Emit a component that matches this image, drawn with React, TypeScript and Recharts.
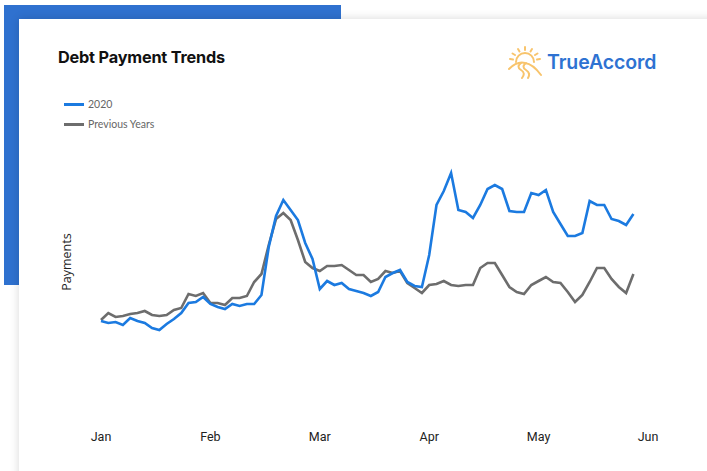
import React from "react";
import { LineChart, Line, XAxis, YAxis } from "recharts";

// day index (each month = 30 units, equally spaced ticks)
const days = [
  0, 2, 4, 6, 8, 10, 12, 14, 16, 18, 20, 22, 24, 26, 28, 30, 32, 34, 36, 38,
  40, 42, 44, 46, 48, 50, 52, 54, 56, 58, 60, 62, 64, 66, 68, 70, 72, 74, 76, 78,
  80, 82, 84, 86, 88, 90, 92, 94, 96, 98, 100, 102, 104, 106, 108, 110, 112, 114, 116, 118,
  120, 122, 124, 126, 128, 130, 132, 134, 136, 138, 140, 142, 144, 146,
];

// 2020 payments (arbitrary index units)
const payments2020 = [
  99, 97, 98, 95, 102, 99, 97, 92, 90, 96, 101, 107, 117, 118, 123, 116, 113, 111, 116, 114,
  116, 116, 125, 173, 204, 220, 210, 200, 177, 161, 131, 139, 135, 137, 131, 129, 127, 124, 128, 143,
  147, 150, 138, 134, 133, 165, 215, 229, 247, 210, 208, 202, 215, 231, 235, 231, 209, 208, 208, 227,
  225, 230, 208, 196, 184, 184, 187, 219, 215, 215, 201, 199, 195, 206,
];

// Previous years payments (arbitrary index units)
const paymentsPrev = [
  100, 107, 103, 104, 106, 107, 109, 105, 104, 105, 110, 112, 126, 124, 127, 117, 117, 115, 122, 122,
  124, 138, 146, 175, 201, 207, 200, 180, 158, 152, 149, 154, 154, 155, 150, 145, 145, 138, 141, 149,
  147, 149, 137, 132, 127, 135, 136, 139, 135, 134, 135, 135, 152, 157, 157, 145, 133, 128, 126, 135,
  139, 143, 138, 137, 128, 118, 125, 138, 152, 152, 141, 133, 127, 146,
];

const monthTicks = [0, 30, 60, 90, 120, 150];
const monthLabels = ["Jan", "Feb", "Mar", "Apr", "May", "Jun"];

const seriesNames = ["2020", "Previous Years"];
const seriesColors = ["#1b7ae0", "#6d6d6d"];

const data = days.map((d, i) => ({
  day: d,
  y2020: payments2020[i],
  prev: paymentsPrev[i],
}));

const SunLogo = () => (
  <svg width={36} height={34} viewBox="0 0 36 34" style={{ position: "absolute", left: 507, top: 45 }}>
    <g stroke="#f8c46c" strokeWidth={2} strokeLinecap="round" fill="none">
      <path d="M9 17 A9 9 0 0 1 27 17" />
      <line x1="18" y1="2" x2="18" y2="5" />
      <line x1="11" y1="4" x2="12.5" y2="6.5" />
      <line x1="25" y1="4" x2="23.5" y2="6.5" />
      <line x1="5.5" y1="8.5" x2="8" y2="10" />
      <line x1="30.5" y1="8.5" x2="28" y2="10" />
      <line x1="3" y1="14" x2="6" y2="14.5" />
      <line x1="33" y1="14" x2="30" y2="14.5" />
      <path d="M2 24 Q10 16 18 18 Q26 19 34 30" />
      <path d="M14 18 Q9 22 14 25 Q19 28 15 33" />
      <path d="M19 18 Q14 22 19 25 Q24 28 21 33" />
    </g>
  </svg>
);

export default function App() {
  return (
    <div
      style={{
        position: "absolute",
        left: 0,
        top: 0,
        width: 707,
        height: 471,
        background: "#ffffff",
        overflow: "hidden",
        fontFamily: "Inter, Roboto, sans-serif",
      }}
    >
      <div style={{ position: "absolute", left: 4, top: 5, width: 337, height: 280, background: "#2f71cf" }} />
      <div
        style={{
          position: "absolute",
          left: 19,
          top: 19,
          width: 720,
          height: 480,
          background: "#ffffff",
          boxShadow: "0 0 9px rgba(0,0,0,0.16)",
        }}
      />
      <div
        style={{
          position: "absolute",
          left: 58,
          top: 47,
          fontSize: 16.3,
          fontWeight: 700,
          color: "#111",
          letterSpacing: -0.2,
        }}
      >
        Debt Payment Trends
      </div>
      <SunLogo />
      <div
        style={{
          position: "absolute",
          left: 547,
          top: 50,
          fontSize: 19.5,
          fontWeight: 600,
          color: "#2e72d2",
          fontFamily: "Inter, sans-serif",
          letterSpacing: -0.1,
        }}
      >
        TrueAccord
      </div>
      {seriesNames.map((name, i) => (
        <div
          key={name}
          style={{
            position: "absolute",
            left: 64,
            top: 98 + i * 20,
            display: "flex",
            alignItems: "center",
            fontFamily: "Lato, 'Open Sans', sans-serif",
            fontSize: 10.5,
            color: "#666",
          }}
        >
          <span style={{ display: "inline-block", width: 20, height: 3, background: seriesColors[i], marginRight: 4 }} />
          {name}
        </div>
      ))}
      <div
        style={{
          position: "absolute",
          left: 66,
          top: 262,
          transform: "translate(-50%, -50%) rotate(-90deg)",
          fontFamily: "'Open Sans', 'Noto Sans', sans-serif",
          fontSize: 12.5,
          color: "#222",
          whiteSpace: "nowrap",
        }}
      >
        Payments
      </div>
      <div style={{ position: "absolute", left: 0, top: 0 }}>
        <LineChart width={707} height={471} data={data} margin={{ top: 100, right: 59, left: 101, bottom: 21 }}>
          <XAxis
            dataKey="day"
            type="number"
            domain={[0, 150]}
            ticks={monthTicks}
            tickFormatter={(v: number) => monthLabels[monthTicks.indexOf(v)]}
            axisLine={false}
            tickLine={false}
            height={30}
            tickMargin={6}
            tick={{ fill: "#222", fontSize: 12.5, fontFamily: "'Liberation Sans Narrow', 'Roboto', sans-serif" }}
          />
          <YAxis hide domain={[0, 320]} />
          <Line
            dataKey="prev"
            stroke={seriesColors[1]}
            strokeWidth={2.6}
            dot={false}
            type="linear"
            isAnimationActive={false}
          />
          <Line
            dataKey="y2020"
            stroke={seriesColors[0]}
            strokeWidth={2.6}
            dot={false}
            type="linear"
            isAnimationActive={false}
          />
        </LineChart>
      </div>
    </div>
  );
}
